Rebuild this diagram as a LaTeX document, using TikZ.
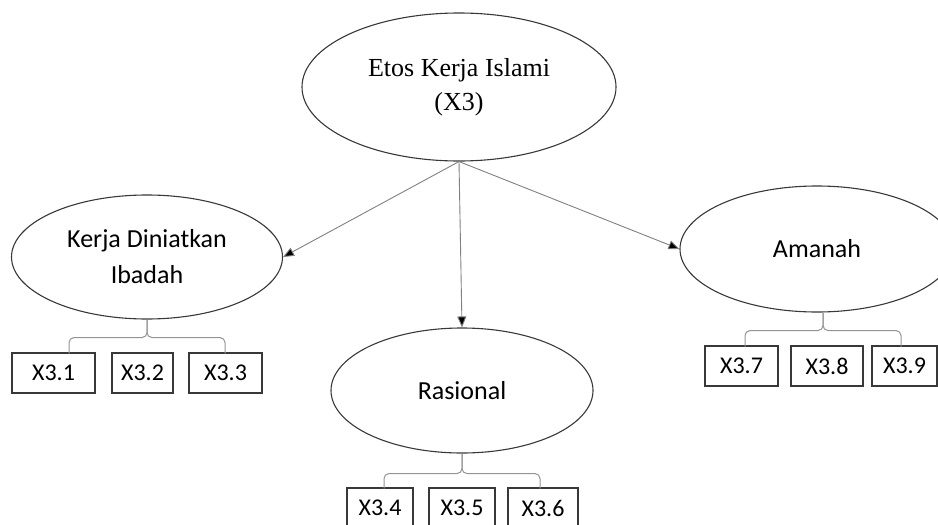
\documentclass[tikz,border=0pt]{standalone}
\usepackage{fontspec}
\setmainfont{Carlito}
\newfontfamily\serifttl{Liberation Serif}
\usetikzlibrary{shapes.geometric,arrows.meta,calc}

\begin{document}
\begin{tikzpicture}[x=1pt,y=-1pt,
  construct/.style={ellipse,draw=black!78,line width=1.1pt,inner sep=0pt},
  indicator/.style={rectangle,draw=black!78,line width=1.1pt,minimum height=40pt,inner sep=0pt,
    font=\fontsize{24}{28}\selectfont},
  link/.style={draw=black!50,line width=0.9pt,-{Triangle[length=11pt,width=9pt,fill=black]}},
  brace/.style={draw=black!42,line width=1pt,rounded corners=5pt}]
\useasboundingbox (0,0) rectangle (938,525);

% main construct
\node[construct,minimum width=314pt,minimum height=148pt,align=center,
  font=\serifttl\fontsize{26}{34}\selectfont] (top) at (459,87) {Etos Kerja Islami\\(X3)};

% dimensions
\node[construct,minimum width=271pt,minimum height=124pt,align=center,
  font=\fontsize{26}{36}\selectfont] (kd) at (147,257) {Kerja Diniatkan\\Ibadah};
\node[construct,minimum width=262pt,minimum height=125pt,
  font=\fontsize{26}{32}\selectfont] (ra) at (462,390.5) {Rasional};
\node[construct,minimum width=274pt,minimum height=126pt,
  font=\fontsize{26}{32}\selectfont] (am) at (817,249) {Amanah};

% indicators
\node[indicator,minimum width=83pt] (i1) at (53.5,373) {X3.1};
\node[indicator,minimum width=61pt] (i2) at (142.5,373) {X3.2};
\node[indicator,minimum width=73pt] (i3) at (225.5,373) {X3.3};
\node[indicator,minimum width=66pt] (i4) at (380,508) {X3.4};
\node[indicator,minimum width=66pt] (i5) at (462,508) {X3.5};
\node[indicator,minimum width=70pt] (i6) at (543,508) {X3.6};
\node[indicator,minimum width=73pt] (i7) at (741.5,366) {X3.7};
\node[indicator,minimum width=72pt] (i8) at (827,366) {X3.8};
\node[indicator,minimum width=65pt] (i9) at (904.5,366) {X3.9};

% paths from the main construct
\draw[link] (top.south) -- (kd.east);
\draw[link] (top.south) -- (ra.north);
\draw[link] (top.south) -- (am.west);

% brackets grouping the indicators
\coordinate (kdj) at ($(kd.south)+(0,18)$);
\draw[brace] ($(kd.south)+(-78,34)$) |- (kdj) -- (kd.south);
\draw[brace] ($(kd.south)+(78,34)$) |- (kdj) -- (kd.south);

\coordinate (raj) at ($(ra.south)+(0,20)$);
\draw[brace] ($(ra.south)+(-78,35)$) |- (raj) -- (ra.south);
\draw[brace] ($(ra.south)+(78,35)$) |- (raj) -- (ra.south);

\coordinate (ams) at ($(am.south)+(6,0)$);
\coordinate (amj) at ($(ams)+(0,18)$);
\draw[brace] ($(ams)+(-78,34)$) |- (amj) -- (ams);
\draw[brace] ($(ams)+(78,34)$) |- (amj) -- (ams);
\end{tikzpicture}
\end{document}
